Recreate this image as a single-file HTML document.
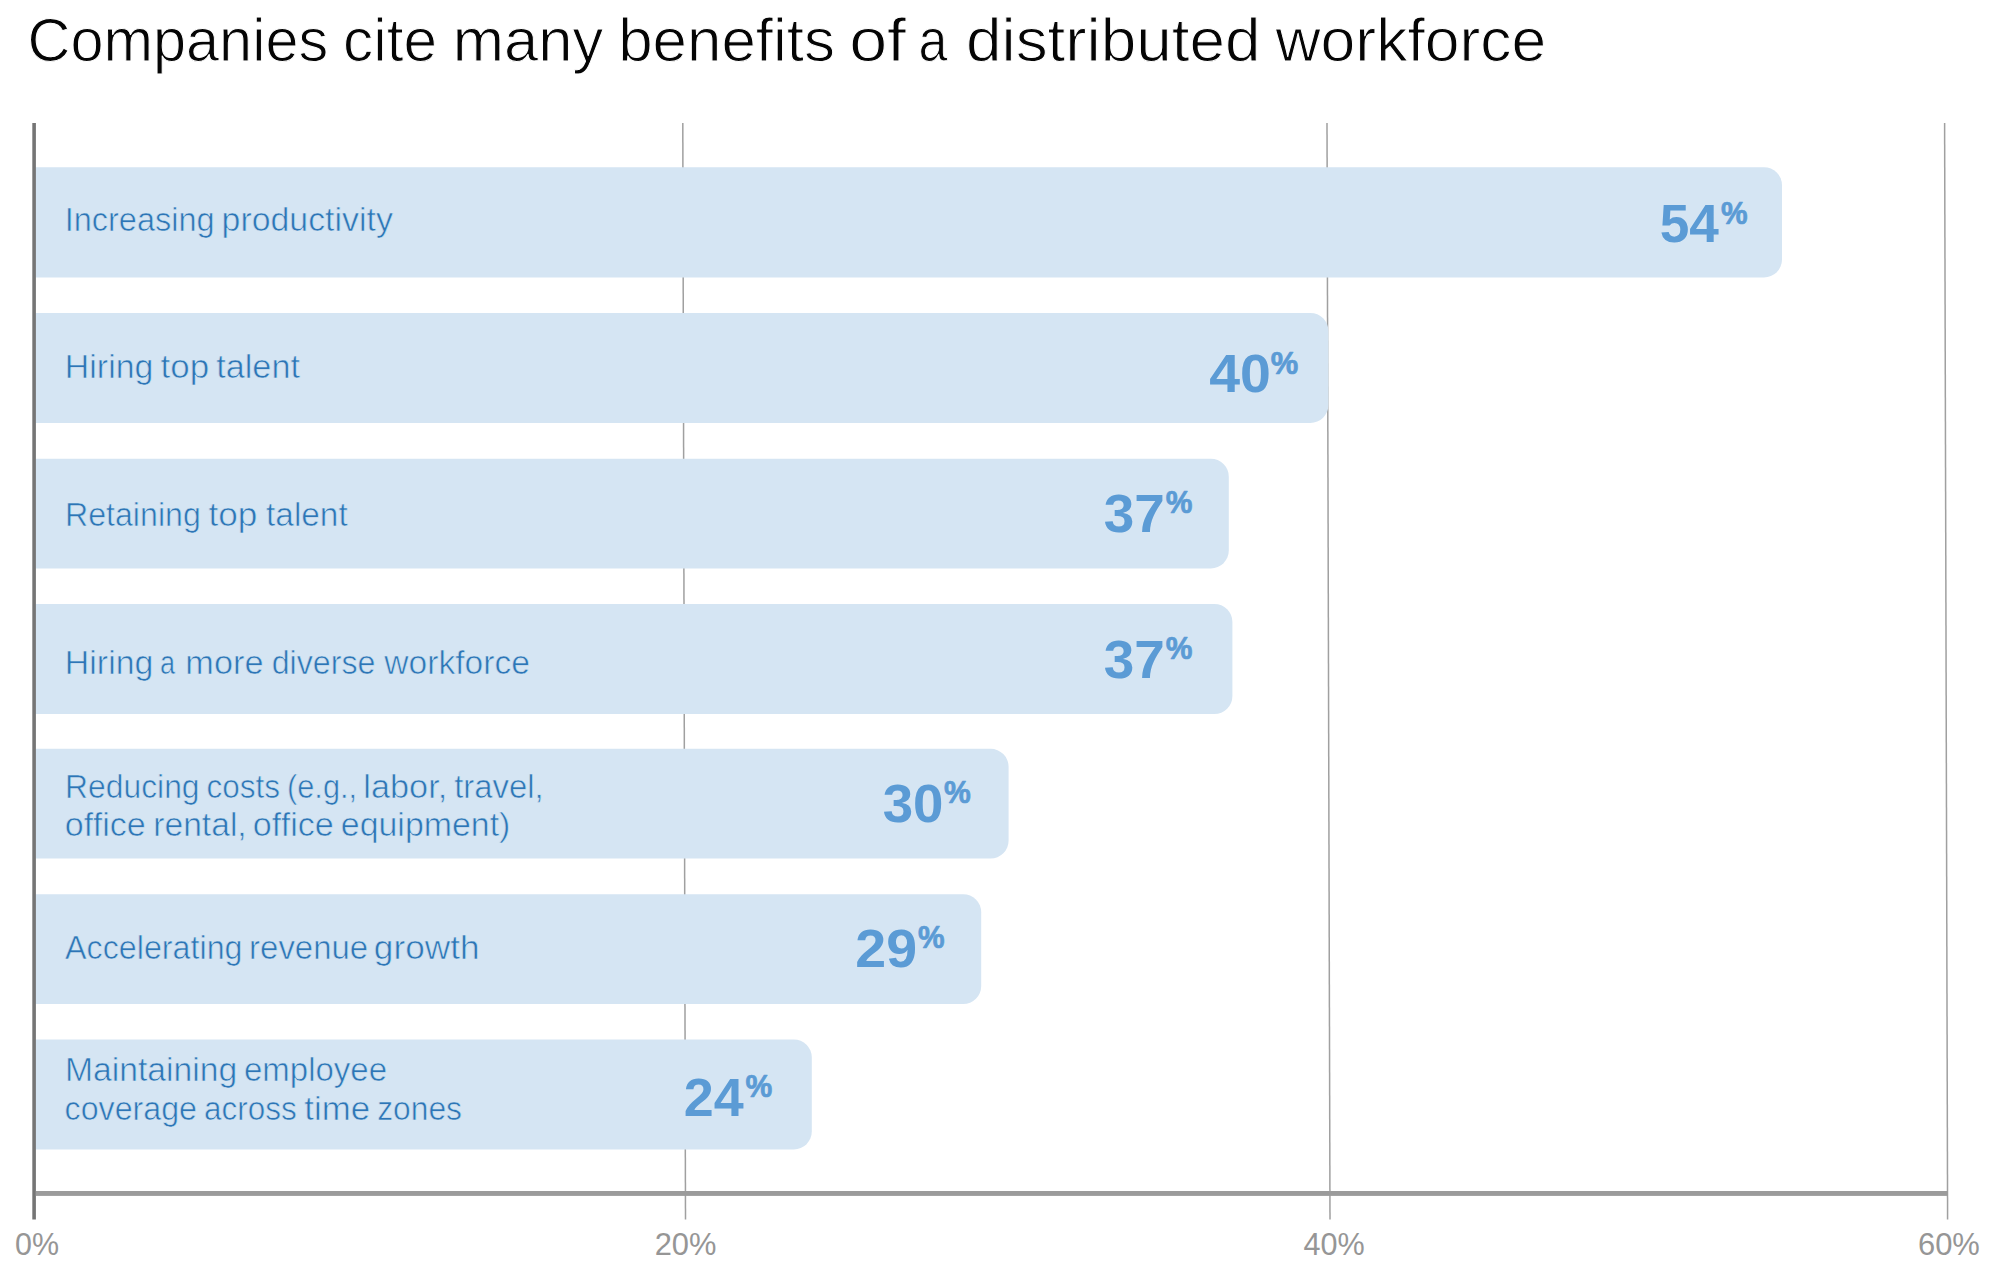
<!DOCTYPE html>
<html><head><meta charset="utf-8"><title>Companies cite many benefits of a distributed workforce</title>
<style>
html,body{margin:0;padding:0;background:#fff;width:2000px;height:1274px;overflow:hidden}
svg{display:block}
text{font-family:"Liberation Sans",Arial,sans-serif}
</style></head><body>
<svg width="2000" height="1274" viewBox="0 0 2000 1274">
<rect width="2000" height="1274" fill="#ffffff"/>
<line x1="682.8" y1="123" x2="685.5" y2="1219.5" stroke="#A0A0A0" stroke-width="1.5"/>
<line x1="1327.0" y1="123" x2="1330.0" y2="1219.5" stroke="#A0A0A0" stroke-width="1.5"/>
<line x1="1944.6" y1="123" x2="1947.6" y2="1219.5" stroke="#A0A0A0" stroke-width="1.5"/>
<path d="M35.5,167.2 H1764.0 A18,18 0 0 1 1782.0,185.2 V259.4 A18,18 0 0 1 1764.0,277.4 H35.5 Z" fill="#D5E5F3"/>
<path d="M35.5,312.9 H1310.4 A18,18 0 0 1 1328.4,330.9 V404.9 A18,18 0 0 1 1310.4,422.9 H35.5 Z" fill="#D5E5F3"/>
<path d="M35.5,458.7 H1210.8 A18,18 0 0 1 1228.8,476.7 V550.4 A18,18 0 0 1 1210.8,568.4 H35.5 Z" fill="#D5E5F3"/>
<path d="M35.5,604.0 H1214.4 A18,18 0 0 1 1232.4,622.0 V696.0 A18,18 0 0 1 1214.4,714.0 H35.5 Z" fill="#D5E5F3"/>
<path d="M35.5,748.8 H990.6 A18,18 0 0 1 1008.6,766.8 V840.6 A18,18 0 0 1 990.6,858.6 H35.5 Z" fill="#D5E5F3"/>
<path d="M35.5,894.2 H963.2 A18,18 0 0 1 981.2,912.2 V986.0 A18,18 0 0 1 963.2,1004.0 H35.5 Z" fill="#D5E5F3"/>
<path d="M35.5,1039.4 H793.8 A18,18 0 0 1 811.8,1057.4 V1131.4 A18,18 0 0 1 793.8,1149.4 H35.5 Z" fill="#D5E5F3"/>
<rect x="32.3" y="123" width="3.6" height="1096.5" fill="#757575"/>
<rect x="35.9" y="1191.0" width="1912" height="4.9" fill="#9B9B9B"/>
<text x="27.53" y="61.20" font-size="60.5" font-weight="400" fill="#050505" stroke="#ffffff" stroke-width="1.0" stroke-linejoin="round" textLength="300.64" lengthAdjust="spacingAndGlyphs">Companies</text>
<text x="343.08" y="61.20" font-size="60.5" font-weight="400" fill="#050505" stroke="#ffffff" stroke-width="1.0" stroke-linejoin="round" textLength="94.01" lengthAdjust="spacingAndGlyphs">cite</text>
<text x="452.81" y="61.20" font-size="60.5" font-weight="400" fill="#050505" stroke="#ffffff" stroke-width="1.0" stroke-linejoin="round" textLength="150.42" lengthAdjust="spacingAndGlyphs">many</text>
<text x="618.19" y="61.20" font-size="60.5" font-weight="400" fill="#050505" stroke="#ffffff" stroke-width="1.0" stroke-linejoin="round" textLength="216.72" lengthAdjust="spacingAndGlyphs">benefits</text>
<text x="849.17" y="61.20" font-size="60.5" font-weight="400" fill="#050505" stroke="#ffffff" stroke-width="1.0" stroke-linejoin="round" textLength="56.92" lengthAdjust="spacingAndGlyphs">of</text>
<text x="918.42" y="61.20" font-size="60.5" font-weight="400" fill="#050505" stroke="#ffffff" stroke-width="1.0" stroke-linejoin="round" textLength="28.88" lengthAdjust="spacingAndGlyphs">a</text>
<text x="965.95" y="61.20" font-size="60.5" font-weight="400" fill="#050505" stroke="#ffffff" stroke-width="1.0" stroke-linejoin="round" textLength="294.64" lengthAdjust="spacingAndGlyphs">distributed</text>
<text x="1275.50" y="61.20" font-size="60.5" font-weight="400" fill="#050505" stroke="#ffffff" stroke-width="1.0" stroke-linejoin="round" textLength="270.78" lengthAdjust="spacingAndGlyphs">workforce</text>
<text x="64.68" y="231.00" font-size="33.0" font-weight="400" fill="#2E75B6" stroke="#D5E5F3" stroke-width="0.6" stroke-linejoin="round" textLength="149.90" lengthAdjust="spacingAndGlyphs">Increasing</text>
<text x="221.57" y="231.00" font-size="33.0" font-weight="400" fill="#2E75B6" stroke="#D5E5F3" stroke-width="0.6" stroke-linejoin="round" textLength="171.25" lengthAdjust="spacingAndGlyphs">productivity</text>
<text x="64.89" y="378.20" font-size="33.0" font-weight="400" fill="#2E75B6" stroke="#D5E5F3" stroke-width="0.6" stroke-linejoin="round" textLength="88.51" lengthAdjust="spacingAndGlyphs">Hiring</text>
<text x="160.60" y="378.20" font-size="33.0" font-weight="400" fill="#2E75B6" stroke="#D5E5F3" stroke-width="0.6" stroke-linejoin="round" textLength="48.60" lengthAdjust="spacingAndGlyphs">top</text>
<text x="216.26" y="378.20" font-size="33.0" font-weight="400" fill="#2E75B6" stroke="#D5E5F3" stroke-width="0.6" stroke-linejoin="round" textLength="83.66" lengthAdjust="spacingAndGlyphs">talent</text>
<text x="65.03" y="526.05" font-size="33.0" font-weight="400" fill="#2E75B6" stroke="#D5E5F3" stroke-width="0.6" stroke-linejoin="round" textLength="135.74" lengthAdjust="spacingAndGlyphs">Retaining</text>
<text x="208.55" y="526.05" font-size="33.0" font-weight="400" fill="#2E75B6" stroke="#D5E5F3" stroke-width="0.6" stroke-linejoin="round" textLength="48.86" lengthAdjust="spacingAndGlyphs">top</text>
<text x="266.07" y="526.05" font-size="33.0" font-weight="400" fill="#2E75B6" stroke="#D5E5F3" stroke-width="0.6" stroke-linejoin="round" textLength="81.65" lengthAdjust="spacingAndGlyphs">talent</text>
<text x="64.89" y="673.80" font-size="33.0" font-weight="400" fill="#2E75B6" stroke="#D5E5F3" stroke-width="0.6" stroke-linejoin="round" textLength="88.51" lengthAdjust="spacingAndGlyphs">Hiring</text>
<text x="160.12" y="673.80" font-size="33.0" font-weight="400" fill="#2E75B6" stroke="#D5E5F3" stroke-width="0.6" stroke-linejoin="round" textLength="15.08" lengthAdjust="spacingAndGlyphs">a</text>
<text x="185.39" y="673.80" font-size="33.0" font-weight="400" fill="#2E75B6" stroke="#D5E5F3" stroke-width="0.6" stroke-linejoin="round" textLength="78.13" lengthAdjust="spacingAndGlyphs">more</text>
<text x="271.71" y="673.80" font-size="33.0" font-weight="400" fill="#2E75B6" stroke="#D5E5F3" stroke-width="0.6" stroke-linejoin="round" textLength="103.69" lengthAdjust="spacingAndGlyphs">diverse</text>
<text x="384.30" y="673.80" font-size="33.0" font-weight="400" fill="#2E75B6" stroke="#D5E5F3" stroke-width="0.6" stroke-linejoin="round" textLength="145.60" lengthAdjust="spacingAndGlyphs">workforce</text>
<text x="65.05" y="798.10" font-size="33.0" font-weight="400" fill="#2E75B6" stroke="#D5E5F3" stroke-width="0.6" stroke-linejoin="round" textLength="134.50" lengthAdjust="spacingAndGlyphs">Reducing</text>
<text x="206.54" y="798.10" font-size="33.0" font-weight="400" fill="#2E75B6" stroke="#D5E5F3" stroke-width="0.6" stroke-linejoin="round" textLength="73.58" lengthAdjust="spacingAndGlyphs">costs</text>
<text x="287.06" y="798.10" font-size="33.0" font-weight="400" fill="#2E75B6" stroke="#D5E5F3" stroke-width="0.6" stroke-linejoin="round" textLength="69.97" lengthAdjust="spacingAndGlyphs">(e.g.,</text>
<text x="363.34" y="798.10" font-size="33.0" font-weight="400" fill="#2E75B6" stroke="#D5E5F3" stroke-width="0.6" stroke-linejoin="round" textLength="83.92" lengthAdjust="spacingAndGlyphs">labor,</text>
<text x="454.17" y="798.10" font-size="33.0" font-weight="400" fill="#2E75B6" stroke="#D5E5F3" stroke-width="0.6" stroke-linejoin="round" textLength="89.46" lengthAdjust="spacingAndGlyphs">travel,</text>
<text x="64.84" y="836.00" font-size="33.0" font-weight="400" fill="#2E75B6" stroke="#D5E5F3" stroke-width="0.6" stroke-linejoin="round" textLength="80.90" lengthAdjust="spacingAndGlyphs">office</text>
<text x="153.28" y="836.00" font-size="33.0" font-weight="400" fill="#2E75B6" stroke="#D5E5F3" stroke-width="0.6" stroke-linejoin="round" textLength="93.44" lengthAdjust="spacingAndGlyphs">rental,</text>
<text x="252.83" y="836.00" font-size="33.0" font-weight="400" fill="#2E75B6" stroke="#D5E5F3" stroke-width="0.6" stroke-linejoin="round" textLength="81.01" lengthAdjust="spacingAndGlyphs">office</text>
<text x="340.84" y="836.00" font-size="33.0" font-weight="400" fill="#2E75B6" stroke="#D5E5F3" stroke-width="0.6" stroke-linejoin="round" textLength="169.55" lengthAdjust="spacingAndGlyphs">equipment)</text>
<text x="65.10" y="959.20" font-size="33.0" font-weight="400" fill="#2E75B6" stroke="#D5E5F3" stroke-width="0.6" stroke-linejoin="round" textLength="177.43" lengthAdjust="spacingAndGlyphs">Accelerating</text>
<text x="249.12" y="959.20" font-size="33.0" font-weight="400" fill="#2E75B6" stroke="#D5E5F3" stroke-width="0.6" stroke-linejoin="round" textLength="119.02" lengthAdjust="spacingAndGlyphs">revenue</text>
<text x="373.89" y="959.20" font-size="33.0" font-weight="400" fill="#2E75B6" stroke="#D5E5F3" stroke-width="0.6" stroke-linejoin="round" textLength="105.68" lengthAdjust="spacingAndGlyphs">growth</text>
<text x="64.90" y="1081.40" font-size="33.0" font-weight="400" fill="#2E75B6" stroke="#D5E5F3" stroke-width="0.6" stroke-linejoin="round" textLength="172.37" lengthAdjust="spacingAndGlyphs">Maintaining</text>
<text x="243.98" y="1081.40" font-size="33.0" font-weight="400" fill="#2E75B6" stroke="#D5E5F3" stroke-width="0.6" stroke-linejoin="round" textLength="143.11" lengthAdjust="spacingAndGlyphs">employee</text>
<text x="64.61" y="1120.00" font-size="33.0" font-weight="400" fill="#2E75B6" stroke="#D5E5F3" stroke-width="0.6" stroke-linejoin="round" textLength="132.40" lengthAdjust="spacingAndGlyphs">coverage</text>
<text x="204.04" y="1120.00" font-size="33.0" font-weight="400" fill="#2E75B6" stroke="#D5E5F3" stroke-width="0.6" stroke-linejoin="round" textLength="92.67" lengthAdjust="spacingAndGlyphs">across</text>
<text x="304.35" y="1120.00" font-size="33.0" font-weight="400" fill="#2E75B6" stroke="#D5E5F3" stroke-width="0.6" stroke-linejoin="round" textLength="65.81" lengthAdjust="spacingAndGlyphs">time</text>
<text x="377.23" y="1120.00" font-size="33.0" font-weight="400" fill="#2E75B6" stroke="#D5E5F3" stroke-width="0.6" stroke-linejoin="round" textLength="84.78" lengthAdjust="spacingAndGlyphs">zones</text>
<text x="1659.81" y="242.00" font-size="54.5" font-weight="700" fill="#5B9BD5" textLength="59.12" lengthAdjust="spacingAndGlyphs">54</text>
<text x="1721.05" y="224.25" font-size="31.0" font-weight="700" fill="#5B9BD5" stroke="#5B9BD5" stroke-width="0.7" stroke-linejoin="round" textLength="26.57" lengthAdjust="spacingAndGlyphs">%</text>
<text x="1209.15" y="391.80" font-size="54.5" font-weight="700" fill="#5B9BD5" textLength="61.70" lengthAdjust="spacingAndGlyphs">40</text>
<text x="1270.73" y="374.05" font-size="31.0" font-weight="700" fill="#5B9BD5" stroke="#5B9BD5" stroke-width="0.7" stroke-linejoin="round" textLength="27.51" lengthAdjust="spacingAndGlyphs">%</text>
<text x="1103.70" y="531.60" font-size="54.5" font-weight="700" fill="#5B9BD5" textLength="61.02" lengthAdjust="spacingAndGlyphs">37</text>
<text x="1165.75" y="512.95" font-size="31.0" font-weight="700" fill="#5B9BD5" stroke="#5B9BD5" stroke-width="0.7" stroke-linejoin="round" textLength="26.68" lengthAdjust="spacingAndGlyphs">%</text>
<text x="1103.70" y="678.00" font-size="54.5" font-weight="700" fill="#5B9BD5" textLength="61.02" lengthAdjust="spacingAndGlyphs">37</text>
<text x="1165.75" y="659.35" font-size="31.0" font-weight="700" fill="#5B9BD5" stroke="#5B9BD5" stroke-width="0.7" stroke-linejoin="round" textLength="26.68" lengthAdjust="spacingAndGlyphs">%</text>
<text x="882.71" y="821.60" font-size="54.5" font-weight="700" fill="#5B9BD5" textLength="60.81" lengthAdjust="spacingAndGlyphs">30</text>
<text x="944.05" y="803.35" font-size="31.0" font-weight="700" fill="#5B9BD5" stroke="#5B9BD5" stroke-width="0.7" stroke-linejoin="round" textLength="26.78" lengthAdjust="spacingAndGlyphs">%</text>
<text x="855.33" y="966.70" font-size="54.5" font-weight="700" fill="#5B9BD5" textLength="61.76" lengthAdjust="spacingAndGlyphs">29</text>
<text x="917.95" y="947.55" font-size="31.0" font-weight="700" fill="#5B9BD5" stroke="#5B9BD5" stroke-width="0.7" stroke-linejoin="round" textLength="26.57" lengthAdjust="spacingAndGlyphs">%</text>
<text x="683.68" y="1115.50" font-size="54.5" font-weight="700" fill="#5B9BD5" textLength="59.94" lengthAdjust="spacingAndGlyphs">24</text>
<text x="745.45" y="1097.25" font-size="31.0" font-weight="700" fill="#5B9BD5" stroke="#5B9BD5" stroke-width="0.7" stroke-linejoin="round" textLength="26.78" lengthAdjust="spacingAndGlyphs">%</text>
<text x="15.09" y="1254.60" font-size="31.3" font-weight="400" fill="#969696" textLength="43.99" lengthAdjust="spacingAndGlyphs">0%</text>
<text x="654.66" y="1254.60" font-size="31.3" font-weight="400" fill="#969696" textLength="61.71" lengthAdjust="spacingAndGlyphs">20%</text>
<text x="1303.49" y="1254.60" font-size="31.3" font-weight="400" fill="#969696" textLength="61.18" lengthAdjust="spacingAndGlyphs">40%</text>
<text x="1917.95" y="1254.60" font-size="31.3" font-weight="400" fill="#969696" textLength="61.92" lengthAdjust="spacingAndGlyphs">60%</text>
</svg>
</body></html>
